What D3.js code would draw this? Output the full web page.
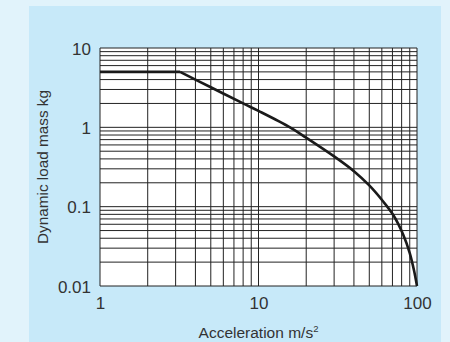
<!DOCTYPE html>
<html><head><meta charset="utf-8">
<script src="https://cdn.jsdelivr.net/npm/d3@7"></script>
<style>html,body{margin:0;padding:0;background:#e1f3fb;}svg{display:block;}</style>
</head><body>
<script>
// Data
const accel = [1, 3.2, 5, 8, 10, 15.8, 20, 30, 40, 50, 61, 71, 82, 90, 95.7, 100];
const mass  = [5, 5, 3.2, 2.0, 1.61, 1.0, 0.74, 0.43, 0.28, 0.185, 0.117, 0.078, 0.044, 0.026, 0.0158, 0.01];
const xTickValues = [1, 10, 100];
const xTickLabels = ["1", "10", "100"];
const yTickValues = [0.01, 0.1, 1, 10];
const yTickLabels = ["0.01", "0.1", "1", "10"];
const xTitle = "Acceleration m/s";
const xTitleSup = "2";
const yTitle = "Dynamic load mass kg";

const W = 450, H = 342;
const m = {left: 100, top: 48, right: 33, bottom: 56};
const svg = d3.select("body").append("svg").attr("width", W).attr("height", H);

svg.append("rect").attr("x", 0).attr("y", 0).attr("width", W).attr("height", H).attr("fill", "#e1f3fb");
svg.append("rect").attr("x", 29).attr("y", 6).attr("width", 412).attr("height", H - 6).attr("fill", "#c7e9f9");

const x = d3.scaleLog().domain([1, 100]).range([m.left, W - m.right]);
const y = d3.scaleLog().domain([0.01, 10]).range([H - m.bottom, m.top]);

const g = svg.append("g");
g.append("rect").attr("x", x(1)).attr("y", y(10)).attr("width", x(100) - x(1)).attr("height", y(0.01) - y(10)).attr("fill", "#ffffff");

// grid lines (all 1..9 multiples per decade)
const xGrid = x.ticks(10);
const yGrid = y.ticks(10);
g.selectAll("line.vx").data(xGrid).enter().append("line")
  .attr("x1", d => x(d)).attr("x2", d => x(d)).attr("y1", y(10)).attr("y2", y(0.01))
  .attr("stroke", "#222").attr("stroke-width", 1);
g.selectAll("line.hy").data(yGrid).enter().append("line")
  .attr("y1", d => y(d)).attr("y2", d => y(d)).attr("x1", x(1)).attr("x2", x(100))
  .attr("stroke", "#222").attr("stroke-width", 1);

// axes labels
const font = "Liberation Sans, Arial, Helvetica, sans-serif";
const xAxis = d3.axisBottom(x).tickValues(xTickValues).tickFormat((d, i) => xTickLabels[i]).tickSize(0).tickPadding(0);
const xa = svg.append("g").attr("transform", `translate(0,${y(0.01)})`).call(xAxis)
  .attr("font-size", null).attr("font-family", null);
xa.select(".domain").remove();
xa.selectAll("text").attr("dy", null).attr("y", 22.5)
  .style("font-family", font).style("font-size", "17px").attr("fill", "#333");

const yAxis = d3.axisLeft(y).tickValues(yTickValues).tickFormat((d, i) => yTickLabels[i]).tickSize(0).tickPadding(0);
const ya = svg.append("g").attr("transform", `translate(${x(1)},0)`).call(yAxis)
  .attr("font-size", null).attr("font-family", null);
ya.select(".domain").remove();
ya.selectAll("text").attr("x", -9).attr("dy", "0.36em")
  .style("font-family", font).style("font-size", "17px").attr("fill", "#333");

// curve
const pts = accel.map((a, i) => [a, mass[i]]);
const flat = pts.slice(0, 2);
const bend = pts.slice(1);
g.append("path").datum(flat).attr("fill", "none").attr("stroke", "#1a1a1a").attr("stroke-width", 2.6)
  .attr("d", d3.line().x(d => x(d[0])).y(d => y(d[1])));
g.append("path").datum(bend).attr("fill", "none").attr("stroke", "#1a1a1a").attr("stroke-width", 2.6)
  .attr("stroke-linejoin", "round")
  .attr("d", d3.line().curve(d3.curveCatmullRom.alpha(0.5)).x(d => x(d[0])).y(d => y(d[1])));

// titles
const xt = svg.append("text").attr("x", (x(1) + x(100)) / 2).attr("y", 337.5).attr("text-anchor", "middle")
  .style("font-family", font).style("font-size", "15.5px").attr("fill", "#333");
xt.append("tspan").text(xTitle);
xt.append("tspan").text(xTitleSup).style("font-size", "9.5px").attr("dy", -6);

svg.append("text").attr("transform", `translate(48,167) rotate(-90)`).attr("text-anchor", "middle")
  .style("font-family", font).style("font-size", "15.3px").attr("fill", "#333").text(yTitle);
</script>
</body></html>
